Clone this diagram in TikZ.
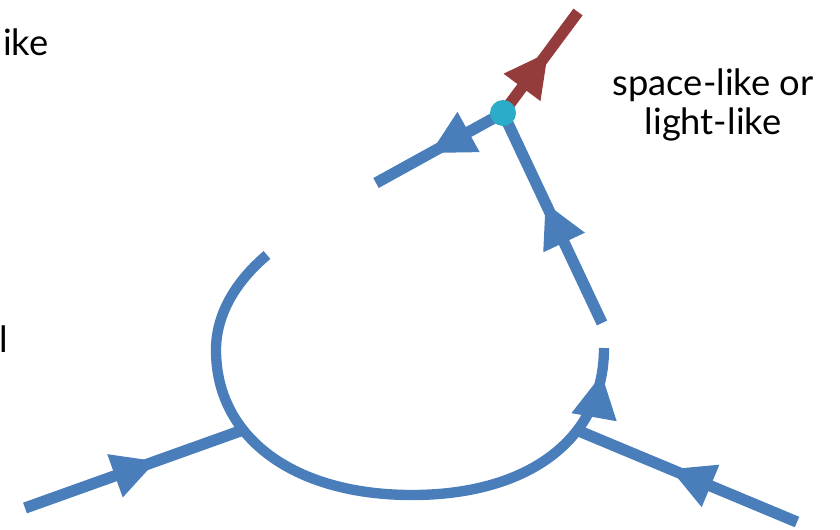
\documentclass[tikz,border=0pt]{standalone}
\usepackage{fontspec}
\setmainfont{Lato}
\usetikzlibrary{arrows.meta,decorations.markings}

\definecolor{linhaazul}{RGB}{74,126,187}
\definecolor{linhavermelha}{RGB}{148,60,60}
\definecolor{vertice}{RGB}{43,172,200}

\begin{document}
\begin{tikzpicture}[
    x=0.03cm, y=-0.03cm,
    linha/.style={color=linhaazul, line width=0.34cm},
    arco/.style={color=linhaazul, line width=0.31cm},
    seta/.style={postaction={decorate}, decoration={markings,
        mark=at position #1 with {\arrow{Triangle[length=1.3cm, width=1.38cm, line width=0pt]}}}},
    rotulo/.style={font=\fontsize{31}{34}\selectfont, align=center},
]
\useasboundingbox (0,0) rectangle (840,529);

% Textos
\node[rotulo, anchor=base west, inner sep=0pt] (corte1) at (3,55) {ike};
\node[rotulo, anchor=base west, inner sep=0pt] (corte2) at (-1,352) {l};
\node[rotulo] (tipo) at (713,105) {space-like or\\light-like};

% Pontos
\coordinate (inL) at (25,508);
\coordinate (jL) at (243,430);
\coordinate (inR) at (797,522);
\coordinate (jR) at (579,431);
\coordinate (arcTop) at (267,255);
\coordinate (arcLeft) at (216,350);
\coordinate (arcBottom) at (412,495);
\coordinate (arcRight) at (604,348);
\coordinate (tR) at (602,323);
\coordinate (v) at (503,113);
\coordinate (outL) at (376,183);
\coordinate (outR) at (578,12);

% Laço
\draw[arco, seta=-0.8cm] (arcTop) .. controls (235,282) and (216,315) .. (arcLeft)
    .. controls (216,437.6) and (293.6,495) .. (arcBottom)
    .. controls (531,495) and (604,437) .. (arcRight);

% Linhas externas
\draw[linha, seta=0.6] (inL) -- (jL);
\draw[linha, seta=0.58] (inR) -- (jR);
\draw[linha, seta=0.57] (tR) -- (v);
\draw[linha, seta=0.57] (v) -- (outL);
\draw[linha, color=linhavermelha, seta=0.6] (v) -- (outR);

% Vértice
\node[circle, fill=vertice, minimum size=0.78cm, inner sep=0pt] (vdot) at (v) {};

\end{tikzpicture}
\end{document}
